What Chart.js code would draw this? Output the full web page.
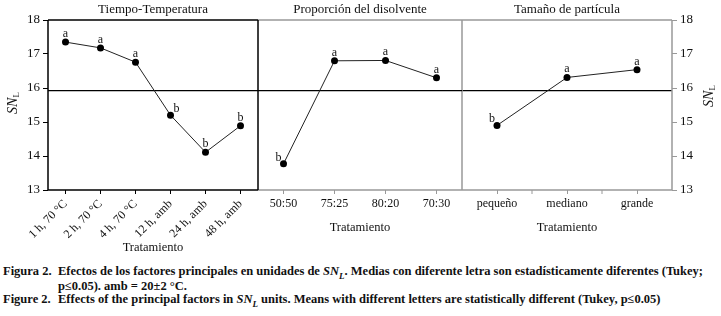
<!DOCTYPE html>
<html>
<head>
<meta charset="utf-8">
<script src="https://cdn.jsdelivr.net/npm/chart.js@4.4.0/dist/chart.umd.min.js"></script>
<style>
  body { margin: 0; background: #fff; }
  #wrap { position: relative; width: 721px; height: 316px; background: #fff; font-family: "Liberation Serif", serif; }
  canvas { position: absolute; top: 0; }
  #c1 { left: 0; z-index: 3; }
  #c2 { left: 250px; z-index: 2; }
  #c3 { left: 454px; z-index: 1; }
  .cap { position: absolute; left: 3px; font-weight: bold; font-size: 12.5px; line-height: 14px; white-space: nowrap; color: #111; }
  .cap .lab { display: inline-block; width: 55px; }
  .cap sub { font-size: 9px; line-height: 0; }
</style>
</head>
<body>
<div id="wrap">
  <canvas id="c1" width="262" height="262"></canvas>
  <canvas id="c2" width="220" height="262"></canvas>
  <canvas id="c3" width="267" height="262"></canvas>
  <div class="cap" style="top:264px"><span class="lab">Figura 2.</span>Efectos de los factores principales en unidades de <i>SN<sub>L</sub></i>. Medias con diferente letra son estadísticamente diferentes (Tukey;</div>
  <div class="cap" style="top:279px"><span class="lab"></span>p≤0.05). amb = 20±2 °C.</div>
  <div class="cap" style="top:292px"><span class="lab">Figure 2.</span>Effects of the principal factors in <i>SN<sub>L</sub></i> units. Means with different letters are statistically different (Tukey, p≤0.05)</div>
</div>
<script>
// data
const grandMean = 15.92;

const tiempoLabels = ["1 h, 70 °C", "2 h, 70 °C", "4 h, 70 °C", "12 h, amb", "24 h, amb", "48 h, amb"];
const tiempoValues = [17.35, 17.18, 16.76, 15.20, 14.11, 14.89];
const tiempoLetters = ["a", "a", "a", "b", "b", "b"];

const disolLabels = ["50:50", "75:25", "80:20", "70:30"];
const disolValues = [13.77, 16.80, 16.81, 16.30];
const disolLetters = ["b", "a", "a", "a"];

const tamLabels = ["pequeño", "mediano", "grande"];
const tamValues = [14.90, 16.31, 16.54];
const tamLetters = ["b", "a", "a"];

// where each letter sits next to its point
const tiempoPlace = ["up", "up", "up", "upright", "up", "up"];
const disolPlace = ["upleft", "up", "up", "up"];
const tamPlace = ["upleft", "up", "up"];

const serif = '"Liberation Serif", "Times New Roman", serif';

function drawSNL(ctx, x, y) {
  ctx.save();
  ctx.translate(x, y);
  ctx.rotate(-Math.PI / 2);
  ctx.fillStyle = '#111';
  ctx.textBaseline = 'middle';
  ctx.textAlign = 'left';
  ctx.font = 'italic 14px ' + serif;
  const w1 = ctx.measureText('SN').width;
  ctx.font = '9px ' + serif;
  const w2 = ctx.measureText('L').width;
  const x0 = -(w1 + w2) / 2;
  ctx.font = 'italic 14px ' + serif;
  ctx.fillText('SN', x0, 0);
  ctx.font = '9px ' + serif;
  ctx.fillText('L', x0 + w1, 4);
  ctx.restore();
}

const panelPlugin = {
  id: 'panel',
  beforeDatasetsDraw(chart, args, opts) {
    const { ctx, chartArea: a, scales: { x, y } } = chart;
    ctx.save();
    // reference line (grand mean)
    const yy = y.getPixelForValue(grandMean);
    ctx.strokeStyle = '#000';
    ctx.lineWidth = 1.3;
    ctx.beginPath();
    ctx.moveTo(a.left, yy);
    ctx.lineTo(a.right, yy);
    ctx.stroke();
    // frame
    ctx.strokeStyle = opts.frameColor;
    ctx.lineWidth = 1.5;
    ctx.beginPath();
    if (opts.sides.includes('top')) { ctx.moveTo(a.left, a.top); ctx.lineTo(a.right, a.top); }
    if (opts.sides.includes('right')) { ctx.moveTo(a.right, a.top); ctx.lineTo(a.right, a.bottom); }
    if (opts.sides.includes('bottom')) { ctx.moveTo(a.left, a.bottom); ctx.lineTo(a.right, a.bottom); }
    if (opts.sides.includes('left')) { ctx.moveTo(a.left, a.top); ctx.lineTo(a.left, a.bottom); }
    ctx.stroke();
    // extra ticks between categories
    if (opts.midTicks) {
      ctx.strokeStyle = opts.frameColor;
      ctx.lineWidth = 1;
      const n = chart.data.labels.length;
      for (let i = 0; i < n - 1; i++) {
        const px = (x.getPixelForValue(i) + x.getPixelForValue(i + 1)) / 2;
        ctx.beginPath();
        ctx.moveTo(px, a.bottom);
        ctx.lineTo(px, a.bottom + 4);
        ctx.stroke();
      }
    }
    ctx.restore();
  },
  afterDatasetsDraw(chart, args, opts) {
    const { ctx } = chart;
    const meta = chart.getDatasetMeta(0);
    ctx.save();
    ctx.fillStyle = '#111';
    ctx.font = '12px ' + serif;
    ctx.textAlign = 'center';
    ctx.textBaseline = 'alphabetic';
    meta.data.forEach((pt, i) => {
      let dx = 0, dy = -5;
      if (opts.place[i] === 'upright') { dx = 6; dy = -3; }
      if (opts.place[i] === 'upleft') { dx = -5; dy = -3; }
      ctx.fillText(opts.letters[i], pt.x + dx, pt.y + dy);
    });
    ctx.restore();
    if (opts.snl) drawSNL(ctx, opts.snl[0], opts.snl[1]);
  }
};

function makePanel(id, cfg) {
  const tickColor = cfg.frameColor;
  return new Chart(document.getElementById(id).getContext('2d'), {
    type: 'line',
    data: {
      labels: cfg.labels,
      datasets: [{
        data: cfg.values,
        borderColor: '#222',
        borderWidth: 1,
        pointRadius: 3.5,
        pointBackgroundColor: '#000',
        pointBorderWidth: 0,
        tension: 0
      }]
    },
    options: {
      responsive: false,
      animation: false,
      layout: { padding: cfg.padding },
      plugins: {
        legend: { display: false },
        tooltip: { enabled: false },
        title: {
          display: true,
          text: cfg.title,
          fullSize: false,
          color: '#111',
          font: { family: serif, size: 13, weight: 'normal', lineHeight: 1.2 },
          padding: { top: 2, bottom: 2.4 }
        },
        panel: {
          frameColor: cfg.frameColor,
          sides: cfg.sides,
          midTicks: cfg.midTicks,
          letters: cfg.letters,
          place: cfg.place,
          snl: cfg.snl
        }
      },
      scales: {
        x: {
          offset: true,
          border: { display: false },
          grid: { display: true, drawOnChartArea: false, drawTicks: true, tickLength: 4, color: tickColor, offset: false },
          ticks: {
            color: '#111',
            font: { family: serif, size: 12 },
            padding: 3,
            autoSkip: false,
            maxRotation: cfg.rotate,
            minRotation: cfg.rotate
          },
          title: {
            display: true,
            text: 'Tratamiento',
            color: '#111',
            font: { family: serif, size: 12.5, lineHeight: 1.2 },
            padding: { top: 0, bottom: cfg.titlePad }
          },
          afterFit(scale) { scale.height = 72; }
        },
        y: {
          display: cfg.yShow,
          position: cfg.yPos,
          min: 13,
          max: 18,
          border: { display: false },
          grid: { display: true, drawOnChartArea: false, drawTicks: true, tickLength: 5, color: tickColor },
          ticks: {
            stepSize: 1,
            color: '#111',
            padding: 3,
            font: { family: serif, size: 13 }
          },
          afterFit(scale) { scale.width = cfg.yWidth; }
        }
      }
    },
    plugins: [panelPlugin]
  });
}

makePanel('c1', {
  labels: tiempoLabels, values: tiempoValues, letters: tiempoLetters, place: tiempoPlace,
  title: 'Tiempo-Temperatura', frameColor: '#000', sides: ['top', 'right', 'bottom', 'left'],
  padding: { left: 0, right: 4, top: 0, bottom: 0 }, rotate: 45, titlePad: 7,
  yShow: true, yPos: 'left', yWidth: 48, snl: [13, 103], midTicks: false
});

makePanel('c2', {
  labels: disolLabels, values: disolValues, letters: disolLetters, place: disolPlace,
  title: 'Proporción del disolvente', frameColor: '#999', sides: ['top', 'bottom'],
  padding: { left: 8, right: 8, top: 0, bottom: 0 }, rotate: 0, titlePad: 27,
  yShow: false, yPos: 'left', yWidth: 0, snl: null, midTicks: false
});

makePanel('c3', {
  labels: tamLabels, values: tamValues, letters: tamLetters, place: tamPlace,
  title: 'Tamaño de partícula', frameColor: '#999', sides: ['top', 'right', 'bottom', 'left'],
  padding: { left: 8, right: 0, top: 0, bottom: 0 }, rotate: 0, titlePad: 27,
  yShow: true, yPos: 'right', yWidth: 49, snl: [255, 96], midTicks: true
});
</script>
</body>
</html>
